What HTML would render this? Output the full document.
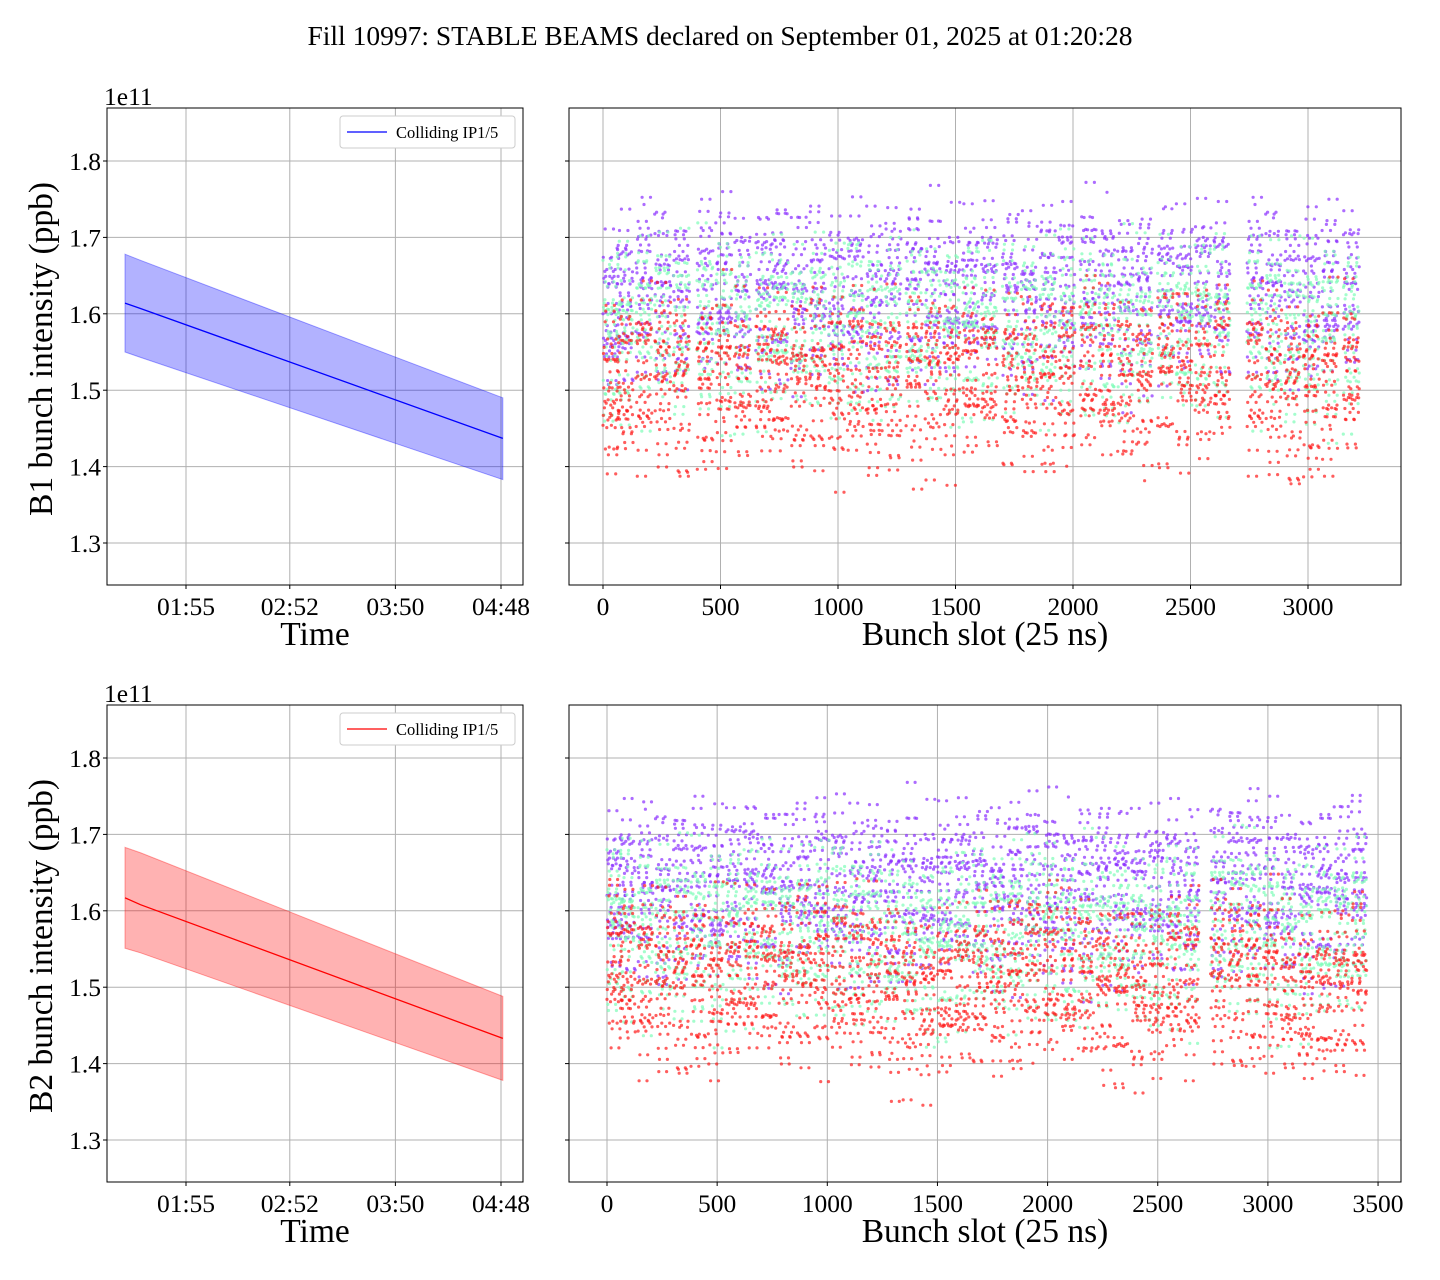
<!DOCTYPE html>
<html><head><meta charset="utf-8">
<style>
body{margin:0;background:#fff;}
svg{display:block;font-family:"Liberation Serif","DejaVu Serif",serif;}
</style></head>
<body>
<svg id="fig" width="1440" height="1280" xmlns="http://www.w3.org/2000/svg">
<rect width="1440" height="1280" fill="#fff"/>
<text x="720" y="45" text-anchor="middle" font-size="27.5">Fill 10997: STABLE BEAMS declared on September 01, 2025 at 01:20:28</text>
<g id="g"></g>
</svg>
<script>
// ---- data ----
const timeTicks = [115, 172, 230, 288];
const timeTickLabels = ["01:55", "02:52", "03:50", "04:48"];
const b1Times = [81.5, 90, 289];
const b1Mean = [1.614, 1.607, 1.437];
const b1Upper = [1.678, 1.670, 1.490];
const b1Lower = [1.550, 1.543, 1.383];
const b2Times = [81.5, 90, 289];
const b2Mean = [1.617, 1.608, 1.433];
const b2Upper = [1.683, 1.676, 1.488];
const b2Lower = [1.551, 1.545, 1.378];
const yTicks = [1.3, 1.4, 1.5, 1.6, 1.7, 1.8];
const slotTicksTop = [0, 500, 1000, 1500, 2000, 2500, 3000];
const slotTicksBot = [0, 500, 1000, 1500, 2000, 2500, 3000, 3500];
const b1TrainStarts = [0,60,140,220,300,400,480,560,650,720,800,880,960,1040,1120,1200,1290,1370,1450,1530,1610,1700,1780,1860,1940,2030,2110,2190,2270,2360,2440,2520,2600,2740,2820,2900,2980,3060,3150];
const b1Purple = [1.60,1.62,1.64,1.63,1.62,1.63,1.64,1.62,1.63,1.64,1.62,1.63,1.62,1.63,1.62,1.63,1.64,1.63,1.62,1.63,1.64,1.63,1.62,1.63,1.63,1.64,1.63,1.62,1.63,1.64,1.63,1.64,1.63,1.64,1.63,1.62,1.62,1.63,1.63];
const b1Green = [1.57,1.58,1.59,1.59,1.58,1.59,1.59,1.58,1.58,1.59,1.58,1.59,1.58,1.59,1.58,1.58,1.59,1.58,1.58,1.59,1.59,1.58,1.58,1.58,1.59,1.59,1.58,1.58,1.58,1.59,1.58,1.59,1.59,1.59,1.58,1.57,1.57,1.58,1.58];
const b1Red = [1.50,1.51,1.52,1.52,1.51,1.51,1.52,1.51,1.52,1.52,1.51,1.52,1.51,1.52,1.50,1.51,1.52,1.52,1.51,1.52,1.52,1.51,1.51,1.51,1.52,1.53,1.52,1.51,1.51,1.53,1.52,1.52,1.53,1.52,1.51,1.50,1.50,1.51,1.52];
const b2TrainStarts = [0,60,140,220,300,380,460,540,620,700,780,860,940,1020,1100,1180,1260,1340,1420,1500,1580,1660,1740,1820,1900,1980,2060,2140,2220,2300,2380,2460,2540,2620,2740,2820,2900,2980,3060,3140,3220,3300,3380];
const b2Purple = [1.62,1.63,1.63,1.62,1.63,1.63,1.62,1.63,1.64,1.63,1.62,1.63,1.64,1.63,1.62,1.63,1.62,1.63,1.62,1.63,1.64,1.63,1.62,1.63,1.64,1.63,1.62,1.63,1.64,1.63,1.62,1.63,1.63,1.62,1.63,1.64,1.64,1.63,1.62,1.62,1.63,1.63,1.64];
const b2Green = [1.58,1.58,1.58,1.57,1.57,1.57,1.57,1.58,1.58,1.58,1.57,1.57,1.58,1.58,1.57,1.57,1.56,1.56,1.55,1.56,1.57,1.57,1.56,1.57,1.58,1.58,1.57,1.57,1.57,1.57,1.56,1.56,1.57,1.57,1.58,1.58,1.58,1.57,1.56,1.56,1.57,1.57,1.58];
const b2Red = [1.53,1.52,1.51,1.51,1.51,1.51,1.50,1.51,1.52,1.52,1.51,1.52,1.52,1.52,1.51,1.51,1.50,1.49,1.48,1.49,1.50,1.51,1.50,1.51,1.52,1.52,1.51,1.51,1.50,1.50,1.49,1.49,1.51,1.51,1.52,1.52,1.51,1.51,1.49,1.48,1.49,1.50,1.51];
const spread = [0.00,0.05,-0.04,0.08,-0.07,0.02,-0.02,0.06,-0.09,0.03,-0.05,0.10,-0.01,0.04,-0.06,0.07,-0.03,0.01,-0.08,0.05,-0.11,0.09,-0.04,0.02,0.12,-0.06,0.03,-0.02,0.06,-0.13,0.04];

const NS="http://www.w3.org/2000/svg";
const G=document.getElementById('g');
function mk(t,a,p){const e=document.createElementNS(NS,t);for(const k in a)e.setAttribute(k,a[k]);(p||G).appendChild(e);return e;}

function panel(name){
  const g=mk('g',{});
  
  
  return g;
}
function yScale(top){return v=>top+53+(1.8-v)*764;}

function drawAxesFrame(g,x,y,w,h){
  const r=mk('rect',{x:x,y:y,width:w,height:h,fill:'none',stroke:'#000','stroke-width':1},g);
  
  
}
function yAxis(g,x,x2,sy,labels){
  yTicks.forEach(v=>{
    const yy=sy(v);
    const gl=mk('line',{x1:x,x2:x2,y1:yy,y2:yy,stroke:'#b0b0b0','stroke-width':1},g);
    
    
    mk('line',{x1:x-4,x2:x,y1:yy,y2:yy,stroke:'#000'},g);
    if(labels){
      const t=mk('text',{x:x-6,y:yy+9,'text-anchor':'end','font-size':25.5},g);
      t.textContent=v.toFixed(1);
      
      
    }
  });
}
function xAxis(g,ticks,labels,sx,y1,y2){
  ticks.forEach((v,i)=>{
    const xx=sx(v);
    const gl=mk('line',{x1:xx,x2:xx,y1:y1,y2:y2,stroke:'#b0b0b0','stroke-width':1},g);
    
    
    mk('line',{x1:xx,x2:xx,y1:y2,y2:y2+4,stroke:'#000'},g);
    const t=mk('text',{x:xx,y:y2+30,'text-anchor':'middle','font-size':25.5},g);
    t.textContent=labels[i];
    
    
  });
}
function label(g,x,y,txt,name,rot){
  const t=mk('text',{x:x,y:y,'text-anchor':'middle','font-size':33.5},g);
  if(rot)t.setAttribute('transform','rotate(-90 '+x+' '+y+')');
  t.textContent=txt;
  
  
}

function timePanel(top,times,mean,up,lo,color,name,ylab){
  const g=panel(name);
  const x0=107,w=416,h=477;
  const sy=yScale(top);
  const sx=m=>186+(m-115)*1.8208;
  yAxis(g,x0,x0+w,sy,true);
  xAxis(g,timeTicks,timeTickLabels,sx,top,top+h);
  let d='M'+times.map((t,i)=>sx(t)+','+sy(up[i])).join('L');
  for(let i=times.length-1;i>=0;i--)d+='L'+sx(times[i])+','+sy(lo[i]);
  const band=mk('path',{d:d+'Z',fill:color,stroke:color,'stroke-opacity':0.35,'fill-opacity':0.3},g);
  
  
  const ln=mk('polyline',{points:times.map((t,i)=>sx(t)+','+sy(mean[i])).join(' '),fill:'none',stroke:color,'stroke-width':1.3},g);
  
  
  drawAxesFrame(g,x0,top,w,h);
  const e=mk('text',{x:104,y:top-3,'font-size':25.5},g);e.textContent='1e11';
  
  const lg=mk('g',{},g);
  
  
  mk('rect',{x:340,y:top+8,width:175,height:32,rx:3,fill:'#fff',stroke:'#ccc'},lg);
  mk('line',{x1:347,x2:387,y1:top+24,y2:top+24,stroke:color,'stroke-width':1.3},lg);
  const lt=mk('text',{x:396,y:top+30,'font-size':16.5},lg);lt.textContent='Colliding IP1/5';
  
  label(g,315,top+h+60,'Time','x-axis-title');
  label(g,52,top+241,ylab,'y-axis-title',true);
}

function slotPanel(top,ticks,pxPerSlot,x0slot,starts,pur,grn,red,name){
  const g=panel(name);
  const x0=569,w=832,h=477;
  const sy=yScale(top);
  const sx=s=>x0slot+s*pxPerSlot;
  yAxis(g,x0,x0+w,sy,false);
  xAxis(g,ticks,ticks.map(String),sx,top,top+h);
  const series=[[pur,'#8a2eff','points-colliding-all'],[grn,'#7dfcb8','points-colliding-partial'],[red,'#ff1a1a','points-noncolliding']];
  series.forEach(([arr,col,nm],k)=>{
    const sg=mk('g',{fill:col,'fill-opacity':0.7},g);
    
    
    starts.forEach((s,i)=>{
      for(let j=0;j<60;j++){
        const off=spread[(i*7+j*3+k*11)%spread.length]*0.85+spread[(j*5+i+k)%spread.length]*0.3;
        const slot=s+j*1.15;
        mk('circle',{cx:sx(slot).toFixed(1),cy:sy(arr[i]+off).toFixed(1),r:1.6},sg);
      }
    });
  });
  drawAxesFrame(g,x0,top,w,h);
  label(g,985,top+h+60,'Bunch slot (25 ns)','x-axis-title');
}

timePanel(108,b1Times,b1Mean,b1Upper,b1Lower,'#0000ff','panel-b1-time','B1 bunch intensity (ppb)');
slotPanel(108,slotTicksTop,0.2350,603,b1TrainStarts,b1Purple,b1Green,b1Red,'panel-b1-slots');
timePanel(705,b2Times,b2Mean,b2Upper,b2Lower,'#ff0000','panel-b2-time','B2 bunch intensity (ppb)');
slotPanel(705,slotTicksBot,0.2203,607,b2TrainStarts,b2Purple,b2Green,b2Red,'panel-b2-slots');
</script>
</body></html>
